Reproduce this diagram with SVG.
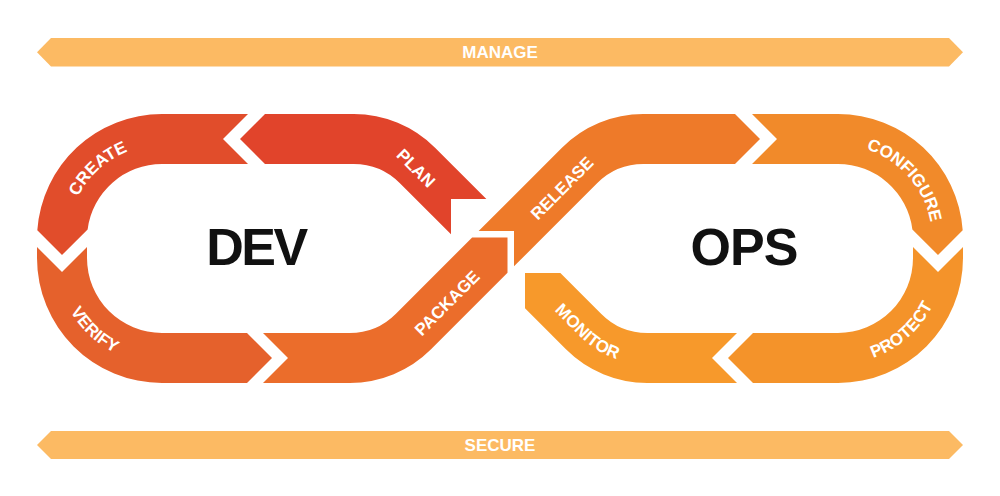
<svg xmlns="http://www.w3.org/2000/svg" width="1000" height="496" viewBox="0 0 1000 496">
<style>
.bar{fill:#FCBA63}
.lbl{font-family:"Liberation Sans",Arial,sans-serif;font-weight:bold;font-size:17px;fill:#ffffff}
.big{font-family:"Liberation Sans",Arial,sans-serif;font-weight:bold;font-size:52px;fill:#111111}
</style>
<defs>
<path id="p-create" d="M68,239 A94,94 0 0 1 162,145"/>
<path id="p-verify" d="M56,258 A106,106 0 0 0 162,364"/>
<path id="p-configure" d="M838,145 A94,94 0 0 1 932,239"/>
<path id="p-protect" d="M838,364 A106,106 0 0 0 944,258"/>
<path id="p-monitor" d="M535.76,292.24 L579.4,335.88 A96,96 0 0 0 647.28,364 L700,364"/>
</defs>
<rect width="1000" height="496" fill="#ffffff"/>
<g id="manage">
<polygon class="bar" points="37,52.3 51,38 949,38 963,52.3 949,66.6 51,66.6"/>
<text class="lbl" x="500" y="58.4" text-anchor="middle">MANAGE</text>
</g>
<g id="secure">
<polygon class="bar" points="37,445 51,431 949,431 963,445 949,459 51,459"/>
<text class="lbl" x="500" y="451" text-anchor="middle">SECURE</text>
</g>
<g id="plan">
<path fill="#E1442B" d="M240,139 L265,114 L353.72,114 A115,115 0 0 1 435.04,147.68 L486.36,199 L451,199 L451,234.36 L399.68,183.04 A65,65 0 0 0 353.72,164 L265,164 Z"/>
<text class="lbl" transform="translate(416,168) rotate(45)" y="6" text-anchor="middle">PLAN</text>
</g>
<g id="create">
<path fill="#E14D2B" d="M223,139 L248,114 L162,114 A125,125 0 0 0 37.3,230.3 L62,255 L87.62,229.38 A75,75 0 0 1 162,164 L248,164 Z"/>
<text class="lbl"><textPath href="#p-create" startOffset="53%" text-anchor="middle">CREATE</textPath></text>
</g>
<g id="verify">
<path fill="#E5612C" d="M62,272 L37,247 L37,258 A125,125 0 0 0 162,383 L247,383 L272,358 L247,333 L162,333 A75,75 0 0 1 87,258 L87,247 Z"/>
<text class="lbl"><textPath href="#p-verify" startOffset="52%" text-anchor="middle">VERIFY</textPath></text>
</g>
<g id="package">
<path fill="#EB6D2B" d="M288,358 L263,383 L349.72,383 A115,115 0 0 0 431.04,349.32 L507.5,272.86 L507.5,237.5 L472.14,237.5 L395.68,313.96 A65,65 0 0 1 349.72,333 L263,333 Z"/>
<text class="lbl" transform="translate(447,303) rotate(-45)" y="6" text-anchor="middle">PACKAGE</text>
</g>
<g id="release">
<path fill="#EE7A29" d="M514,231 L514,266.36 L597.32,183.04 A65,65 0 0 1 643.28,164 L735,164 L760,139 L735,114 L643.28,114 A115,115 0 0 0 561.96,147.68 L478.64,231 Z"/>
<text class="lbl" transform="translate(562,188) rotate(-45)" y="6" text-anchor="middle">RELEASE</text>
</g>
<g id="configure">
<path fill="#F18A2A" d="M777,139 L752,164 L838,164 A75,75 0 0 1 912.38,229.38 L938,255 L962.7,230.3 A125,125 0 0 0 838,114 L752,114 Z"/>
<text class="lbl"><textPath href="#p-configure" startOffset="54%" text-anchor="middle">CONFIGURE</textPath></text>
</g>
<g id="protect">
<path fill="#F4932A" d="M938,272 L913,247 L913,258 A75,75 0 0 1 838,333 L753,333 L728,358 L753,383 L838,383 A125,125 0 0 0 963,258 L963,247 Z"/>
<text class="lbl"><textPath href="#p-protect" startOffset="46%" text-anchor="middle">PROTECT</textPath></text>
</g>
<g id="monitor">
<path fill="#F7992B" d="M712,358 L737,333 L647.28,333 A65,65 0 0 1 601.32,313.96 L560.36,273 L525,273 L525,308.36 L565.96,349.32 A115,115 0 0 0 647.28,383 L737,383 Z"/>
<text class="lbl"><textPath href="#p-monitor" startOffset="66" text-anchor="middle">MONITOR</textPath></text>
</g>
<g id="dev">
<text class="big" x="256" y="265" text-anchor="middle" letter-spacing="-2.5">DEV</text>
</g>
<g id="ops">
<text class="big" x="744" y="265" text-anchor="middle" letter-spacing="-1">OPS</text>
</g>
<g id="connectors"></g>
</svg>
